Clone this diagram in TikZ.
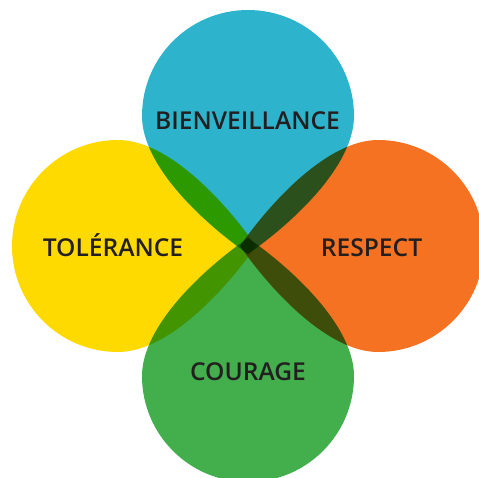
\documentclass[tikz,border=0pt]{standalone}
\usepackage{fontspec}
\setmainfont{Open Sans}
\newfontfamily\labelfont{Open Sans Semibold}
\usetikzlibrary{calc}
\definecolor{cblue}{RGB}{45,180,204}
\definecolor{cyellow}{RGB}{255,218,0}
\definecolor{corange}{RGB}{244,114,34}
\definecolor{cgreen}{RGB}{66,174,76}
\definecolor{ctext}{RGB}{35,31,32}
\tikzset{
  petal/.style={blend mode=multiply, draw=none},
  lbl/.style={anchor=base, inner sep=0pt, text=ctext, font=\labelfont\fontsize{24.6}{28}\selectfont}
}
\newcommand{\teardrop}{(-8,0) .. controls (23.5,45) and (80,106) .. (130,106) arc[start angle=90, end angle=-90, radius=106] .. controls (80,-106) and (23.5,-45) .. (-8,0) -- cycle}
\begin{document}
\begin{tikzpicture}[x=1pt,y=-1pt]
\fill[white] (0,0) rectangle (479,478);
\useasboundingbox (0,0) rectangle (479,478);
\begin{scope}
\clip (0,0) rectangle (479,478);
\begin{scope}[shift={(248,246)},rotate=90]
\fill[petal,cblue] \teardrop;
\end{scope}
\begin{scope}[shift={(248,246)},rotate=180]
\fill[petal,cyellow] \teardrop;
\end{scope}
\begin{scope}[shift={(248,246)}]
\fill[petal,corange] \teardrop;
\end{scope}
\begin{scope}[shift={(248,246)},rotate=-90]
\fill[petal,cgreen] \teardrop;
\end{scope}
\end{scope}
\node[lbl] (b) at (247.5,129.3) {BIENVEILLANCE};
\node[lbl] (t) at (113,257) {TOLÉRANCE};
\node[lbl] (r) at (371.5,257) {RESPECT};
\node[lbl] (c) at (248,380.3) {COURAGE};
\end{tikzpicture}
\end{document}
